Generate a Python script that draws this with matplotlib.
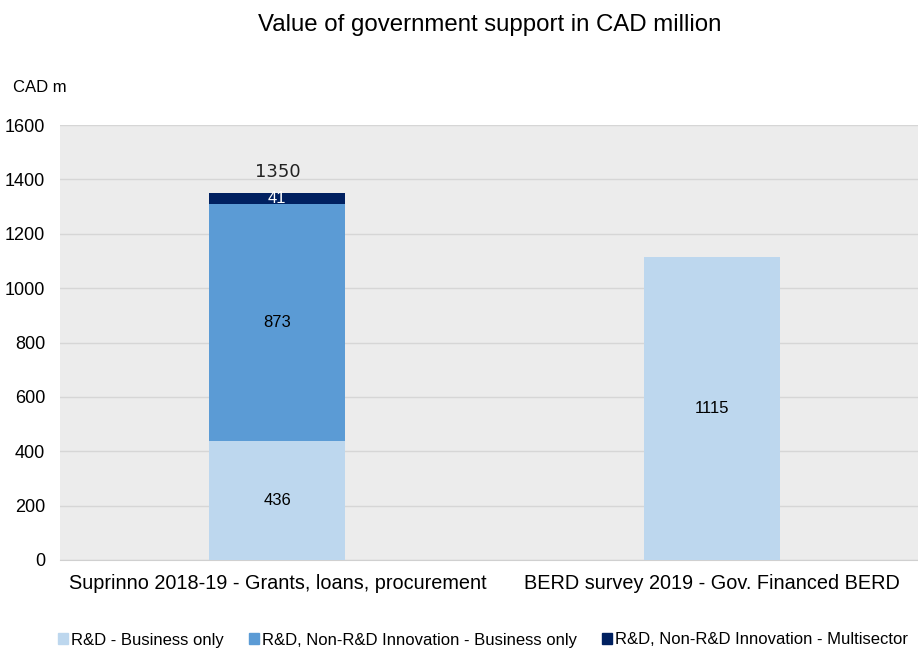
import matplotlib
matplotlib.use("Agg")
import matplotlib.pyplot as plt
from matplotlib.patches import Patch
import numpy as np

plt.rcParams['font.family'] = ['Liberation Sans', 'DejaVu Sans']

categories = ["Suprinno 2018-19 - Grants, loans, procurement",
              "BERD survey 2019 - Gov. Financed BERD"]
series_names = ["R&D - Business only",
                "R&D, Non-R&D Innovation - Business only",
                "R&D, Non-R&D Innovation - Multisector"]
rd_business = [436, 1115]
innov_business = [873, 0]
innov_multi = [41, 0]
totals = [1350, None]
yticks = [0, 200, 400, 600, 800, 1000, 1200, 1400, 1600]

colors = ["#BDD7EE", "#5B9BD5", "#002060"]

fig = plt.figure(figsize=(9.18, 6.5), dpi=100)
ax = fig.add_axes([60 / 918, 90 / 650, 869.5 / 918, 435 / 650])
ax.set_facecolor("#ECECEC")

x = np.arange(len(categories))
w = 0.3125
ax.bar(x, rd_business, w, color=colors[0], zorder=3)
ax.bar(x, innov_business, w, bottom=rd_business, color=colors[1], zorder=3)
bottom3 = np.array(rd_business) + np.array(innov_business)
ax.bar(x, innov_multi, w, bottom=bottom3, color=colors[2], zorder=3)

# segment labels
for i in range(len(categories)):
    if rd_business[i]:
        ax.text(x[i], rd_business[i] / 2, str(rd_business[i]), ha="center", va="center",
                fontsize=12, color="black", zorder=4)
    if innov_business[i]:
        ax.text(x[i], rd_business[i] + innov_business[i] / 2, str(innov_business[i]),
                ha="center", va="center", fontsize=12, color="black", zorder=4)
    if innov_multi[i]:
        ax.text(x[i], bottom3[i] + innov_multi[i] / 2, str(innov_multi[i]),
                ha="center", va="center", fontsize=12, color="white", zorder=4)
    if totals[i]:
        ax.text(x[i], totals[i] + 45, str(totals[i]), ha="center", va="bottom",
                fontsize=13, color="#222222", family=["DejaVu Sans"], zorder=4)

ax.set_xlim(-0.5, 1.5)
ax.set_ylim(0, 1600)
ax.set_yticks(yticks)
ax.set_yticklabels([str(t) for t in yticks], fontsize=13)
ax.set_xticks(x)
ax.set_xticklabels(categories, fontsize=14.3)
ax.tick_params(axis="both", length=0, colors="black")
ax.tick_params(axis="y", pad=10.8)
ax.tick_params(axis="x", pad=10)
ax.grid(axis="y", color="#D6D6D6", linewidth=1, zorder=0)
for s in ["top", "right", "left"]:
    ax.spines[s].set_visible(False)
ax.spines["bottom"].set_color("#D0D0D0")

fig.text(490 / 918, 1 - 25 / 650, "Value of government support in CAD million",
         ha="center", va="center", fontsize=17.3)
fig.text(13 / 918, 1 - 87 / 650, "CAD m", ha="left", va="center", fontsize=12)

handles = [Patch(color=c) for c in colors]
fig.legend(handles, series_names, loc="center", bbox_to_anchor=(483 / 918, 1 - 640 / 650),
           ncol=3, frameon=False, fontsize=12, handlelength=0.6, handleheight=0.6,
           handletextpad=0.2, columnspacing=1.5)

fig.savefig("out.png", dpi=100)
